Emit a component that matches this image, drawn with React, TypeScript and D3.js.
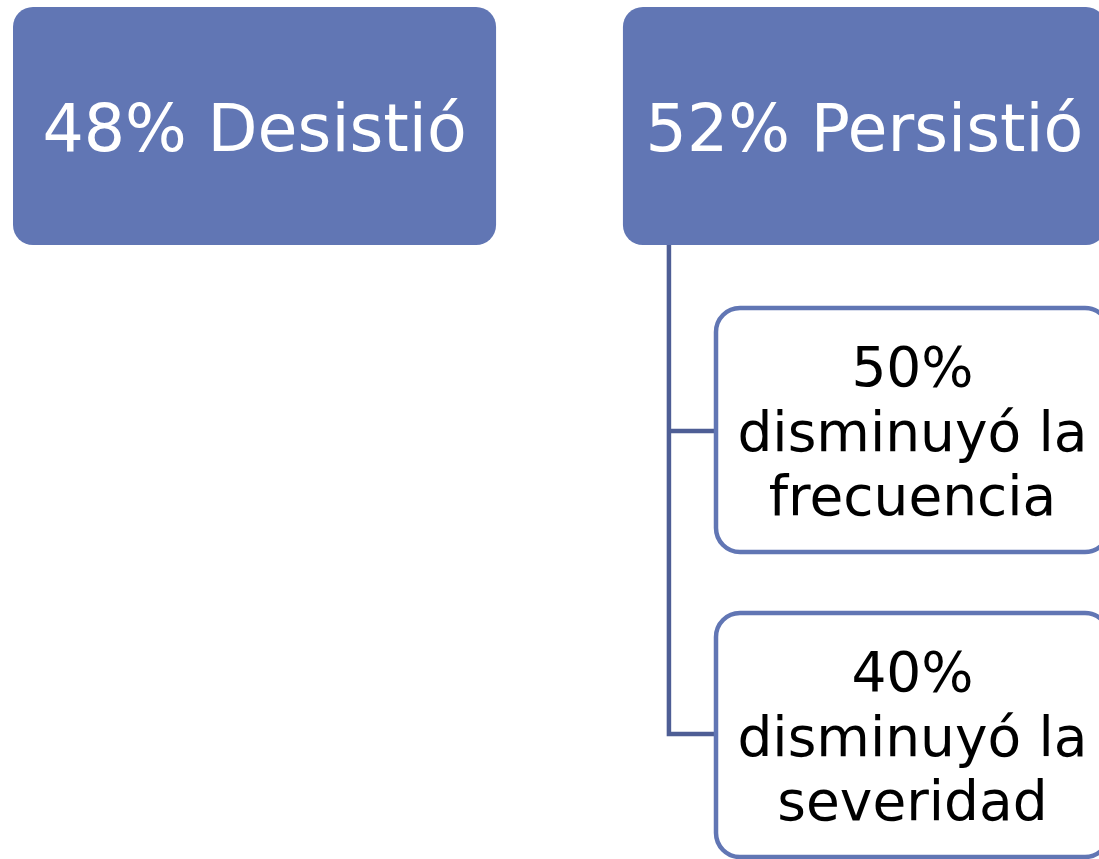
import React from "react";
import * as d3 from "d3";

const topLabels = ["48% Desistió", "52% Persistió"];
const childPercents = ["50%", "40%"];
const childLines = [
  ["disminuyó la", "frecuencia"],
  ["disminuyó la", "severidad"],
];

const W = 1099;
const H = 859;
const FILL = "#6176B4";
const LINE = "#4E5E95";
const FONT = "'DejaVu Sans', 'Liberation Sans', sans-serif";

export default function App() {
  const xTop = d3.scaleBand<string>().domain(topLabels).range([13, 1106]).paddingInner(0.208);
  const topY = 7;
  const topH = 238;
  const childY = d3.scaleBand<string>().domain(childPercents).range([308, 857]).paddingInner(0.2);
  const childX = 716;
  const childW = 393;
  const parentX = xTop(topLabels[1])! + 46;

  return (
    <svg
      width={W}
      height={H}
      style={{ position: "absolute", left: 0, top: 0, background: "#fff" }}
    >
      {topLabels.map((t) => {
        const x = xTop(t)!;
        const bw = xTop.bandwidth();
        return (
          <g key={t}>
            <rect x={x} y={topY} width={bw} height={topH} rx={20} ry={20} fill={FILL} />
            <text
              x={x + bw / 2}
              y={151}
              textAnchor="middle"
              fill="#fff"
              fontFamily={FONT}
              fontSize={65}
            >
              {t}
            </text>
          </g>
        );
      })}
      <path
        d={
          `M${parentX},${topY + topH} V${childY(childPercents[1])! + childY.bandwidth() / 2 - 1} H${childX}` +
          ` M${parentX},${childY(childPercents[0])! + childY.bandwidth() / 2 + 1} H${childX}`
        }
        fill="none"
        stroke={LINE}
        strokeWidth={4.5}
      />
      {childPercents.map((p, i) => {
        const y = childY(p)!;
        const bh = childY.bandwidth();
        const lines = [p, ...childLines[i]];
        const base = y + 78;
        return (
          <g key={p}>
            <rect
              x={childX}
              y={y}
              width={childW}
              height={bh}
              rx={24}
              ry={24}
              fill="#fff"
              stroke={FILL}
              strokeWidth={4.5}
            />
            {lines.map((l, j) => (
              <text
                key={j}
                x={childX + childW / 2}
                y={base + j * 64.5}
                textAnchor="middle"
                fill="#000"
                fontFamily={FONT}
                fontSize={55}
              >
                {l}
              </text>
            ))}
          </g>
        );
      })}
    </svg>
  );
}
